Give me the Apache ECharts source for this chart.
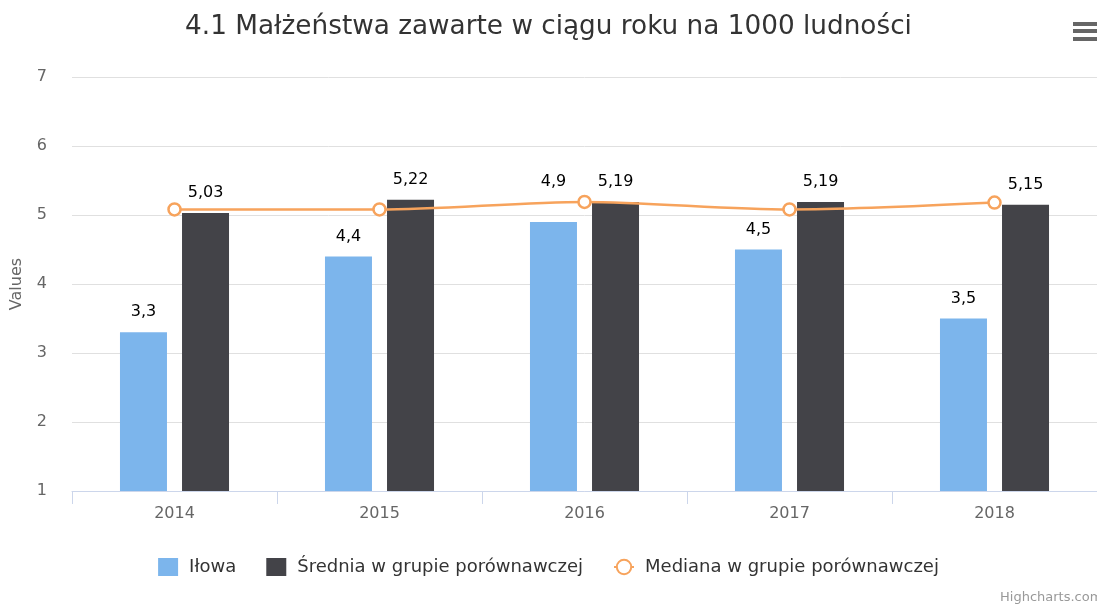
<!DOCTYPE html>
<html>
<head>
<meta charset="utf-8">
<title>4.1 Małżeństwa zawarte w ciągu roku na 1000 ludności</title>
<script src="https://cdn.jsdelivr.net/npm/echarts@6/dist/echarts.min.js"></script>
<style>
  html, body { margin: 0; padding: 0; background: #fff; }
  #main { width: 1097px; height: 605px; }
</style>
</head>
<body>
<div id="main"></div>
<script>
// dane
var years = ['2014', '2015', '2016', '2017', '2018'];
var ilowa = [3.3, 4.4, 4.9, 4.5, 3.5];
var srednia = [5.03, 5.22, 5.19, 5.19, 5.15];
var mediana = [5.08, 5.08, 5.19, 5.08, 5.18];
var yTicks = [1, 2, 3, 4, 5, 6, 7];

var font = 'DejaVu Sans';

function comma(p) {
  return String(p.value).replace('.', ',');
}

var barLabel = {
  show: true,
  position: 'top',
  distance: 12,
  formatter: comma,
  color: '#000',
  fontSize: 16,
  fontFamily: font,
  textBorderColor: '#fff',
  textBorderWidth: 2
};

// etykieta 2016 w referencji jest wyzej (nad linia mediany)
var ilowaData = ilowa.map(function (v, i) {
  return i === 2 ? { value: v, label: { offset: [0, -20] } } : v;
});

var option = {
  animation: false,
  textStyle: { fontFamily: font },
  color: ['#7cb5ec', '#434348', '#f7a35c'],
  title: {
    text: '4.1 Małżeństwa zawarte w ciągu roku na 1000 ludności',
    left: 'center',
    top: 9,
    textStyle: { fontSize: 26.3, fontWeight: 'normal', color: '#333', fontFamily: font }
  },
  legend: {
    bottom: 24,
    left: 'center',
    itemWidth: 20,
    itemHeight: 18,
    itemGap: 30,
    textStyle: { fontSize: 18, color: '#333', fontFamily: font, padding: [0, 0, 0, 6] },
    data: [
      { name: 'Iłowa', icon: 'rect' },
      { name: 'Średnia w grupie porównawczej', icon: 'rect' },
      'Mediana w grupie porównawczej'
    ]
  },
  grid: { left: 72, right: 0, top: 77, bottom: 114, outerBoundsMode: 'none', containLabel: false },
  xAxis: {
    type: 'category',
    data: years,
    boundaryGap: true,
    axisLine: { lineStyle: { color: '#ccd6eb', width: 1 } },
    axisTick: { show: true, length: 13, lineStyle: { color: '#ccd6eb' } },
    axisLabel: { color: '#666', fontSize: 16, margin: 15, fontFamily: font }
  },
  yAxis: {
    type: 'value',
    min: yTicks[0],
    max: yTicks[yTicks.length - 1],
    interval: 1,
    name: 'Values',
    nameLocation: 'middle',
    nameGap: 47,
    nameTextStyle: { color: '#666', fontSize: 16, fontFamily: font },
    axisLine: { show: false },
    axisTick: { show: false },
    axisLabel: { color: '#666', fontSize: 16, margin: 25, fontFamily: font },
    splitLine: { lineStyle: { color: '#e0e0e0' } }
  },
  series: [
    {
      name: 'Iłowa',
      type: 'bar',
      data: ilowaData,
      barWidth: 47,
      barGap: '32%',
      itemStyle: { color: '#7cb5ec' },
      label: barLabel
    },
    {
      name: 'Średnia w grupie porównawczej',
      type: 'bar',
      data: srednia,
      barWidth: 47,
      barGap: '32%',
      itemStyle: { color: '#434348' },
      label: barLabel
    },
    {
      name: 'Mediana w grupie porównawczej',
      type: 'line',
      data: mediana,
      smooth: 0.3,
      symbol: 'circle',
      symbolSize: 12,
      z: 5,
      lineStyle: { color: '#f7a35c', width: 2.5 },
      itemStyle: { color: '#fff', borderColor: '#f7a35c', borderWidth: 2.5 }
    }
  ],
  graphic: [
    { type: 'rect', shape: { x: 1073, y: 22, width: 24, height: 4 }, style: { fill: '#666' } },
    { type: 'rect', shape: { x: 1073, y: 29, width: 24, height: 4 }, style: { fill: '#666' } },
    { type: 'rect', shape: { x: 1073, y: 37, width: 24, height: 4 }, style: { fill: '#666' } },
    {
      type: 'text', left: 1000, top: 591,
      style: { text: 'Highcharts.com', fill: '#999', fontSize: 13, fontFamily: font }
    }
  ]
};

var myChart = echarts.init(document.getElementById('main'));
myChart.setOption(option);
</script>
</body>
</html>
